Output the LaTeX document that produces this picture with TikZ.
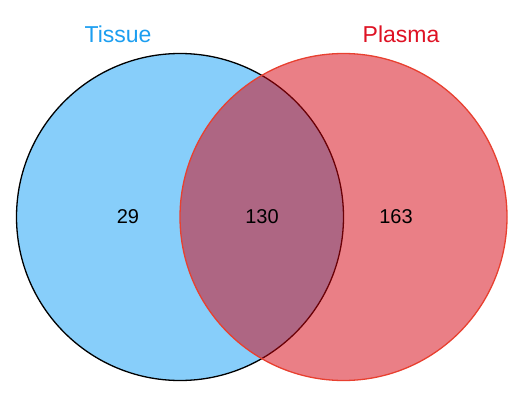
\documentclass[tikz,border=0pt]{standalone}
\usepackage{fontspec}
\setmainfont{Liberation Sans}
\definecolor{tissueblue}{RGB}{135,206,250}
\definecolor{tissuetext}{RGB}{28,158,240}
\definecolor{plasmared}{RGB}{213,0,13}
\definecolor{plasmaline}{RGB}{232,64,48}
\definecolor{plasmatext}{RGB}{222,18,36}
\tikzset{
  settitle/.style={font=\fontsize{23}{25}\selectfont},
  setcount/.style={font=\fontsize{20}{22}\selectfont, text=black}
}

\begin{document}
\begin{tikzpicture}[line cap=round,line join=round,x=1pt,y=-1pt]
	\useasboundingbox (0,0) rectangle (532,396);
	% centres des ensembles
	\coordinate (ctissue) at (180,217);
	\coordinate (cplasma) at (343.5,217);
	% Tissue
	\filldraw[fill=tissueblue, draw=black, line width=1.3pt] (ctissue) circle (163.5);
	% Plasma
	\fill[plasmared, opacity=0.5] (cplasma) circle (163.5);
	\draw[plasmaline, line width=1.3pt] (cplasma) circle (163.5);
	% titres
	\node[settitle, text=tissuetext] (tissue) at (118,34) {Tissue};
	\node[settitle, text=plasmatext] (plasma) at (401,34) {Plasma};
	% effectifs
	\node[setcount] (onlytissue) at (128,217) {29};
	\node[setcount] (both) at (262,217) {130};
	\node[setcount] (onlyplasma) at (396,217) {163};
\end{tikzpicture}
\end{document}
